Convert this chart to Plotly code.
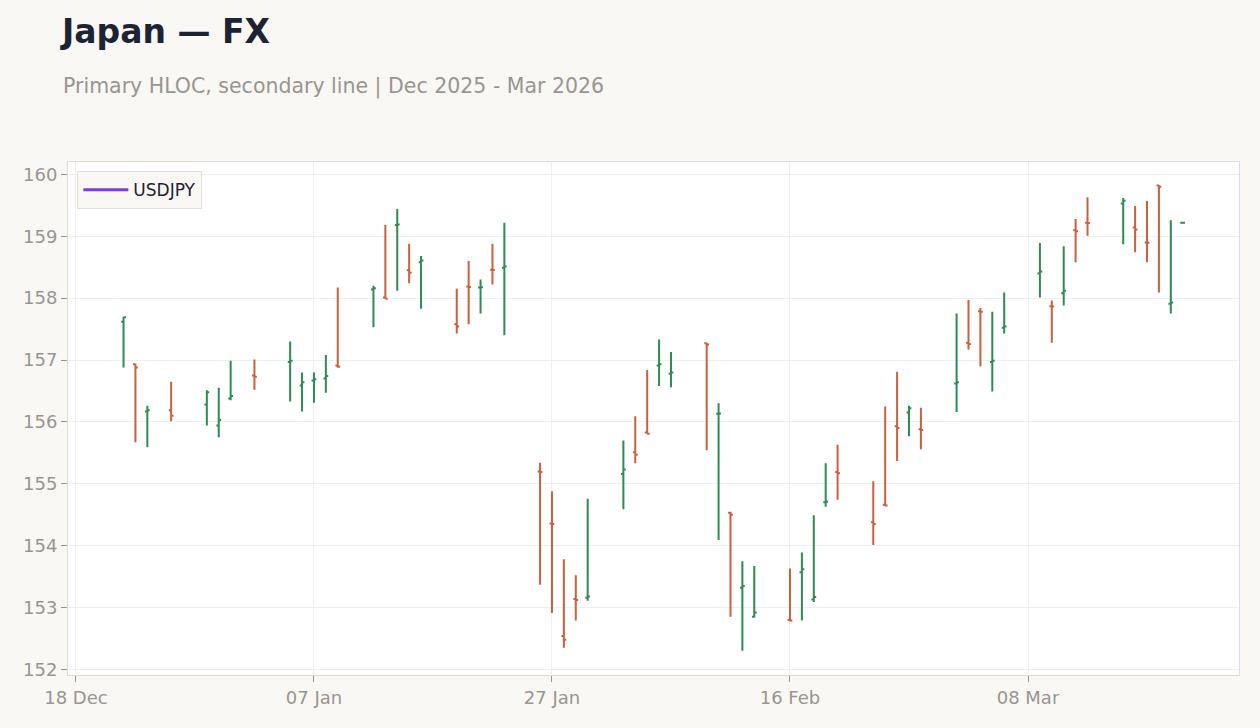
import plotly.graph_objects as go

dates = [
    "2025-12-22", "2025-12-23", "2025-12-24", "2025-12-26", "2025-12-29", "2025-12-30", "2025-12-31",
    "2026-01-02", "2026-01-05", "2026-01-06", "2026-01-07", "2026-01-08", "2026-01-09",
    "2026-01-12", "2026-01-13", "2026-01-14", "2026-01-15", "2026-01-16",
    "2026-01-19", "2026-01-20", "2026-01-21", "2026-01-22", "2026-01-23",
    "2026-01-26", "2026-01-27", "2026-01-28", "2026-01-29", "2026-01-30",
    "2026-02-02", "2026-02-03", "2026-02-04", "2026-02-05", "2026-02-06",
    "2026-02-09", "2026-02-10", "2026-02-11", "2026-02-12", "2026-02-13",
    "2026-02-16", "2026-02-17", "2026-02-18", "2026-02-19", "2026-02-20",
    "2026-02-23", "2026-02-24", "2026-02-25", "2026-02-26", "2026-02-27",
    "2026-03-02", "2026-03-03", "2026-03-04", "2026-03-05", "2026-03-06",
    "2026-03-09", "2026-03-10", "2026-03-11", "2026-03-12", "2026-03-13",
    "2026-03-16", "2026-03-17", "2026-03-18", "2026-03-19", "2026-03-20",
    "2026-03-21",
]

open_ = [
    157.62, 156.93, 156.17, 156.19, 156.28, 155.94, 156.38,
    156.75, 156.97, 156.59, 156.67, 156.70, 156.91,
    158.14, 158.01, 159.18, 158.45, 158.58,
    157.58, 158.19, 158.17, 158.46, 158.49,
    155.20, 154.36, 152.54, 153.14, 153.16,
    155.16, 155.51, 155.83, 156.91, 156.78,
    157.27, 156.13, 154.53, 153.32, 152.85,
    152.80, 153.57, 153.13, 154.70, 155.19,
    154.38, 154.66, 155.93, 156.15, 155.88,
    156.62, 157.28, 157.79, 156.97, 157.52,
    158.40, 157.87, 158.08, 159.10, 159.22,
    159.53, 159.14, 158.90, 159.82, 157.91,
    159.22,
]

high = [
    157.70, 156.94, 156.26, 156.65, 156.51, 156.55, 156.99,
    157.01, 157.30, 156.80, 156.80, 157.08, 158.17,
    158.20, 159.18, 159.44, 158.88, 158.68,
    158.15, 158.60, 158.30, 158.88, 159.22,
    155.34, 154.88, 153.78, 153.52, 154.76,
    155.70, 156.09, 156.84, 157.33, 157.13,
    157.28, 156.30, 154.55, 153.75, 153.67,
    153.63, 153.89, 154.49, 155.33, 155.63,
    155.04, 156.25, 156.81, 156.26, 156.23,
    157.75, 157.97, 157.84, 157.78, 158.09,
    158.89, 157.96, 158.84, 159.28, 159.63,
    159.62, 159.49, 159.57, 159.83, 159.26,
    159.22,
]

low = [
    156.88, 155.67, 155.59, 156.01, 155.94, 155.75, 156.35,
    156.52, 156.33, 156.17, 156.31, 156.47, 156.88,
    157.53, 157.99, 158.12, 158.24, 157.83,
    157.43, 157.58, 157.75, 158.22, 157.40,
    153.37, 152.91, 152.35, 152.79, 153.11,
    154.59, 155.33, 155.81, 156.58, 156.56,
    155.54, 154.09, 152.85, 152.30, 152.84,
    152.78, 152.79, 153.09, 154.63, 154.74,
    154.01, 154.64, 155.37, 155.77, 155.56,
    156.16, 157.17, 156.90, 156.49, 157.43,
    158.01, 157.28, 157.88, 158.58, 159.01,
    158.87, 158.74, 158.58, 158.09, 157.75,
    159.22,
]

close = [
    157.69, 156.88, 156.19, 156.10, 156.48, 156.03, 156.42,
    156.73, 156.99, 156.64, 156.69, 156.74, 156.89,
    158.16, 157.99, 159.19, 158.41, 158.61,
    157.54, 158.18, 158.175, 158.455, 158.51,
    155.19, 154.35, 152.48, 153.12, 153.18,
    155.23, 155.47, 155.81, 156.93, 156.80,
    157.25, 156.135, 154.50, 153.35, 152.92,
    152.79, 153.62, 153.17, 154.71, 155.17,
    154.35, 154.65, 155.90, 156.22, 155.87,
    156.64, 157.26, 157.78, 156.99, 157.54,
    158.43, 157.865, 158.12, 159.08, 159.215,
    159.575, 159.11, 158.895, 159.80, 157.93,
    159.22,
]

# secondary line series: no visible points in the reference (only its legend entry)
line_dates = ["2025-12-22"]
line_values = [None]

x_range = ["2025-12-17 08:00", "2026-03-25 17:30"]
y_range = [151.91, 160.2]

GREEN = "#2f8a55"
RED = "#c9603f"
FONT = "DejaVu Sans"
GREY = "#999590"

fig = go.Figure()
fig.add_trace(go.Ohlc(
    x=dates, open=open_, high=high, low=low, close=close,
    name="USDJPY OHLC", showlegend=False, tickwidth=0.2,
    increasing=dict(line=dict(color=GREEN, width=2)),
    decreasing=dict(line=dict(color=RED, width=2)),
))
fig.add_trace(go.Scatter(
    x=line_dates, y=line_values, mode="lines", name="USDJPY",
    line=dict(color="#7c3aed", width=3), showlegend=True,
))

fig.update_layout(
    width=1260, height=728,
    paper_bgcolor="#f9f8f5", plot_bgcolor="#ffffff",
    margin=dict(l=68, r=21, t=162, b=53),
    font=dict(family=FONT, color=GREY, size=18),
    title=dict(text="<b>Japan — FX</b>", x=62/1260, xanchor="left",
               y=1 - 31/728, yanchor="middle", yref="container",
               font=dict(size=33, color="#1c2333", family=FONT)),
    showlegend=True,
    legend=dict(x=0.008, y=0.982, xanchor="left", yanchor="top",
                bgcolor="#faf8f5", bordercolor="#e2ded8", borderwidth=1,
                itemwidth=45,
                font=dict(size=17, color="#1c2333", family=FONT)),
    annotations=[dict(
        text="Primary HLOC, secondary line | Dec 2025 - Mar 2026",
        xref="paper", yref="paper", x=-7/1171, y=(675 - 86)/513,
        xanchor="left", yanchor="middle", showarrow=False,
        font=dict(size=20.5, color=GREY, family=FONT),
    )],
)
fig.update_xaxes(
    type="date", range=x_range, rangeslider=dict(visible=False),
    tick0="2025-12-18", dtick=20 * 86400000, tickformat="%d %b",
    showgrid=True, gridcolor="#efefef", gridwidth=1,
    showline=True, linecolor="#e0dcd6", linewidth=1, mirror=True,
    ticks="outside", ticklen=6, tickcolor=GREY,
    tickfont=dict(size=18, color=GREY), zeroline=False,
)
fig.update_yaxes(
    range=y_range, dtick=1, tick0=152,
    showgrid=True, gridcolor="#efefef", gridwidth=1,
    showline=True, linecolor="#e0dcd6", linewidth=1, mirror=True,
    ticks="outside", ticklen=6, tickcolor=GREY,
    tickfont=dict(size=18, color=GREY), zeroline=False,
)

fig.write_html("out.html")
